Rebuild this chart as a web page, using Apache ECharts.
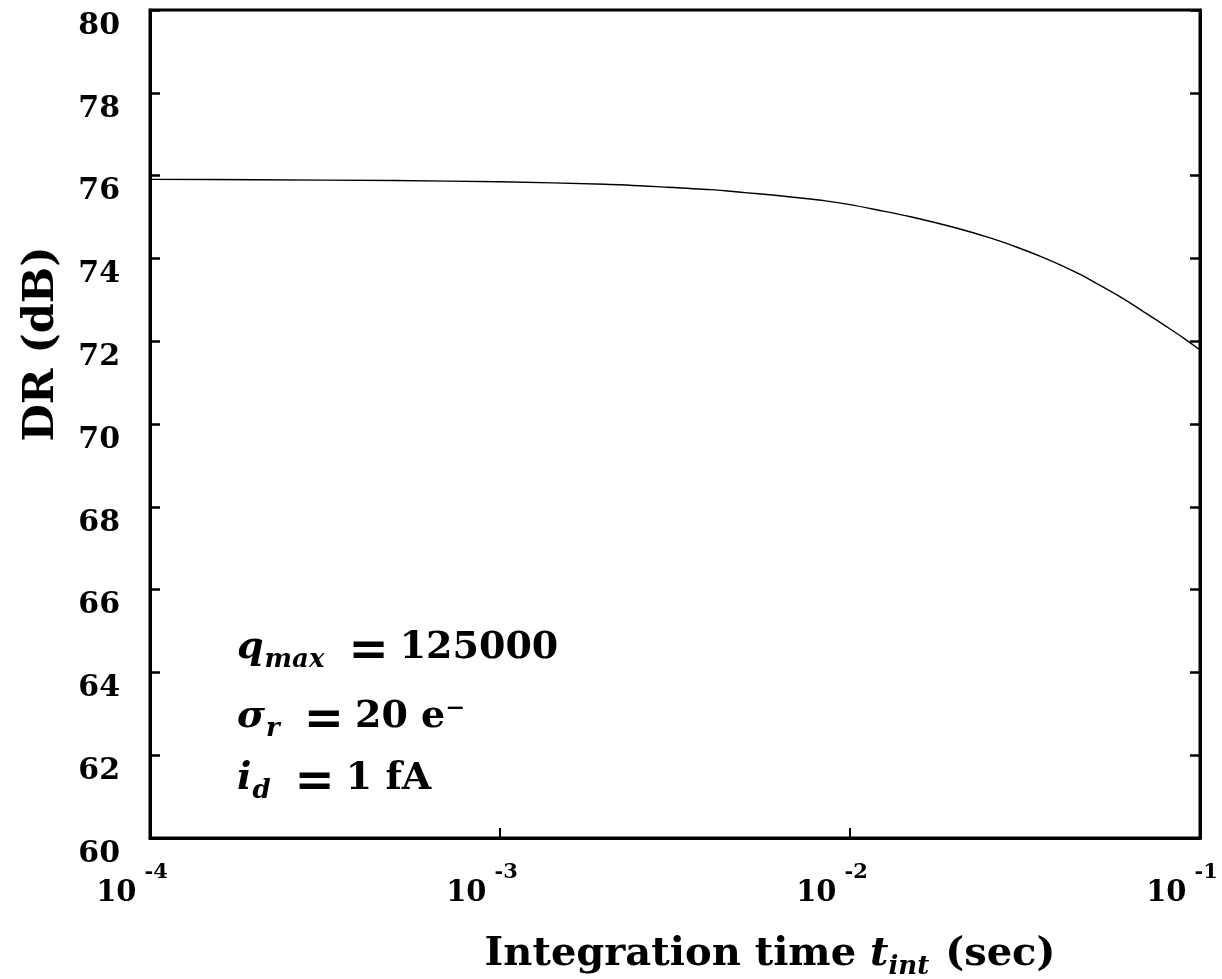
<!DOCTYPE html>
<html>
<head>
<meta charset="utf-8">
<script src="https://cdn.jsdelivr.net/npm/echarts@6/dist/echarts.min.js"></script>
<style>
  html, body { margin: 0; padding: 0; background: #fff; }
  #chart { width: 1222px; height: 979px; }
</style>
</head>
<body>
<div id="chart"></div>
<script>
// Integration time (s) and dynamic range (dB) of the sensor
const integrationTime = [1e-4, 2e-4, 5e-4, 1e-3, 2e-3, 3e-3, 4e-3, 5e-3, 6e-3, 7e-3, 8.5e-3, 1e-2,
  1.2e-2, 1.5e-2, 2e-2, 2.5e-2, 3e-2, 3.5e-2, 4e-2, 4.5e-2, 5e-2, 6e-2, 7e-2, 8e-2, 9e-2, 1e-1];
const dynamicRange = [75.91, 75.90, 75.88, 75.85, 75.79, 75.72, 75.66, 75.59, 75.53, 75.47, 75.39, 75.30,
  75.17, 75.00, 74.74, 74.50, 74.27, 74.05, 73.84, 73.63, 73.42, 73.04, 72.68, 72.36, 72.07, 71.79];

// Decade exponents shown under the log axis
const xTickExponents = ['-4', '-3', '-2', '-1'];
const yMin = 60, yMax = 80, yStep = 2;

const SERIF = "'DejaVu Serif', 'Liberation Serif', serif";

const chart = echarts.init(document.getElementById('chart'), null, { renderer: 'canvas' });

const lineData = integrationTime.map((t, i) => [t, dynamicRange[i]]);

function expLabel(value) {
  const e = Math.round(Math.log10(value));
  const s = xTickExponents.find(x => Number(x) === e) || String(e);
  return '{b|10}{s|' + s + '}';
}

function annoRich() {
  return {
    v: { fontFamily: SERIF, fontWeight: 'bold', fontStyle: 'italic', fontSize: 38, fill: '#000', lineHeight: 44, verticalAlign: 'top' },
    s: { fontFamily: SERIF, fontWeight: 'bold', fontStyle: 'italic', fontSize: 26, fill: '#000', lineHeight: 26, verticalAlign: 'top', padding: [18, 0, 0, 1] },
    e: { fontFamily: SERIF, fontWeight: 'bold', fontSize: 48, fill: '#000', lineHeight: 44, verticalAlign: 'top', padding: [0, 11, 0, 24] },
    t: { fontFamily: SERIF, fontWeight: 'bold', fontSize: 38, fill: '#000', lineHeight: 44, verticalAlign: 'top' }
  };
}

const yAxisBase = {
  type: 'value',
  min: yMin,
  max: yMax,
  interval: yStep,
  splitLine: { show: false },
  axisLine: { show: true, lineStyle: { color: '#000', width: 3 } },
  axisTick: { show: true, inside: true, length: 10, lineStyle: { color: '#000', width: 2.5 } }
};

chart.setOption({
  animation: false,
  backgroundColor: '#fff',
  grid: {
    left: 150, right: 22, top: 10, bottom: 141,
    show: true, borderColor: '#000', borderWidth: 3,
    outerBoundsMode: 'none'
  },
  xAxis: {
    type: 'log',
    logBase: 10,
    min: 1e-4,
    max: 1e-1,
    splitLine: { show: false },
    minorTick: { show: false },
    axisLine: { show: true, lineStyle: { color: '#000', width: 3 } },
    axisTick: { show: true, inside: true, length: 10, lineStyle: { color: '#000', width: 2 } },
    axisLabel: {
      margin: 40,
      formatter: expLabel,
      rich: {
        b: { fontFamily: SERIF, fontWeight: 'bold', fontSize: 29, color: '#000', lineHeight: 30 },
        s: { fontFamily: SERIF, fontWeight: 'bold', fontSize: 21, color: '#000', lineHeight: 20,
             padding: [0, 36, 40, 8] }
      }
    }
  },
  yAxis: [
    Object.assign({}, yAxisBase, {
      position: 'left',
      axisLabel: {
        fontFamily: SERIF, fontWeight: 'bold', fontSize: 30, color: '#000',
        margin: 30, verticalAlign: 'top', lineHeight: 32
      }
    }),
    Object.assign({}, yAxisBase, {
      position: 'right',
      axisLabel: { show: false }
    })
  ],
  series: [{
    type: 'line',
    data: lineData,
    yAxisIndex: 0,
    smooth: 0.3,
    showSymbol: false,
    lineStyle: { color: '#000', width: 1.4 },
    clip: true
  }],
  graphic: [
    {
      type: 'text', x: 42, y: 344, rotation: Math.PI / 2,
      style: {
        text: 'DR (dB)',
        fontFamily: SERIF, fontWeight: 'bold', fontSize: 43, fill: '#000',
        align: 'center', verticalAlign: 'middle'
      }
    },
    {
      type: 'text', x: 770, y: 957,
      style: {
        text: '{a|Integration time }{t|t}{s|int}{a| (sec)}',
        align: 'center', verticalAlign: 'middle',
        rich: {
          a: { fontFamily: SERIF, fontWeight: 'bold', fontSize: 40, fill: '#000', lineHeight: 44, verticalAlign: 'top' },
          t: { fontFamily: SERIF, fontWeight: 'bold', fontStyle: 'italic', fontSize: 40, fill: '#000', lineHeight: 44, verticalAlign: 'top' },
          s: { fontFamily: SERIF, fontWeight: 'bold', fontStyle: 'italic', fontSize: 26, fill: '#000', lineHeight: 26, verticalAlign: 'top', padding: [19, 2, 0, 0] }
        }
      }
    },
    {
      type: 'text', x: 237, y: 629,
      style: { text: '{v|q}{s|max}{e|=}{t|125000}', verticalAlign: 'top', rich: annoRich() }
    },
    {
      type: 'text', x: 237, y: 698,
      style: { text: '{v|σ}{s|r}{e|=}{t|20 e⁻}', verticalAlign: 'top', rich: annoRich() }
    },
    {
      type: 'text', x: 237, y: 760,
      style: { text: '{v|i}{s|d}{e|=}{t|1 fA}', verticalAlign: 'top', rich: annoRich() }
    }
  ]
});
</script>
</body>
</html>
